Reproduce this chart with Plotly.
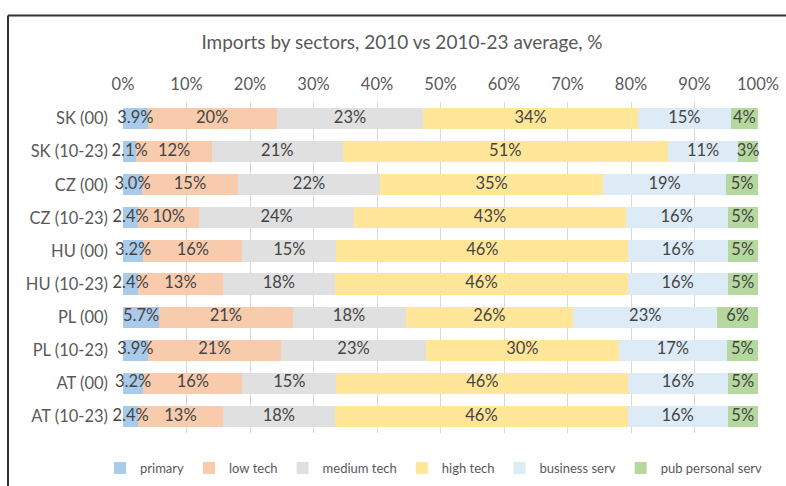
import plotly.graph_objects as go

categories = ["SK (00)", "SK (10-23)", "CZ (00)", "CZ (10-23)", "HU (00)",
              "HU (10-23)", "PL (00)", "PL (10-23)", "AT (00)", "AT (10-23)"]

primary = [3.9, 2.1, 3.0, 2.4, 3.2, 2.4, 5.7, 3.9, 3.2, 2.4]
low_tech = [20.3, 11.9, 15.1, 9.6, 15.6, 13.3, 21.0, 21.0, 15.6, 13.3]
medium_tech = [23.1, 20.6, 22.4, 24.4, 14.8, 17.7, 17.8, 22.8, 14.8, 17.7]
high_tech = [33.8, 51.2, 35.1, 42.8, 46.0, 46.1, 26.4, 30.4, 46.0, 46.1]
business_serv = [14.6, 11.1, 19.4, 16.0, 15.6, 15.7, 22.7, 17.0, 15.6, 15.7]
pub_personal_serv = [4.3, 3.1, 5.0, 4.8, 4.8, 4.8, 6.4, 4.9, 4.8, 4.8]

series = [
    ("primary", primary, "#A9CBEB", 1),
    ("low tech", low_tech, "#F8CBAD", 0),
    ("medium tech", medium_tech, "#E0E0E0", 0),
    ("high tech", high_tech, "#FFE699", 0),
    ("business serv", business_serv, "#DDEBF7", 0),
    ("pub personal serv", pub_personal_serv, "#B5D89E", 0),
]

FONT = "Lato"
fig = go.Figure()
for name, vals, color, dec in series:
    fig.add_trace(go.Bar(
        y=categories, x=vals, name=name, orientation="h",
        marker=dict(color=color, line=dict(width=0)),
        hoverinfo="x+name",
    ))

# data labels centred on each segment (positions derived from the data)
cum = [0.0] * len(categories)
for name, vals, color, dec in series:
    centers = [c + v / 2 for c, v in zip(cum, vals)]
    labels = [f"{v:.{dec}f}%" for v in vals]
    fig.add_trace(go.Scatter(
        x=centers, y=categories, mode="text", text=labels,
        textposition="middle center",
        textfont=dict(family=FONT, size=16.5, color="#454545"),
        showlegend=False, hoverinfo="skip", cliponaxis=False,
    ))
    cum = [c + v for c, v in zip(cum, vals)]

L, R, T, B = 123, 28, 102, 53
W, H = 786, 486
PW, PH = W - L - R, H - T - B
px_x = lambda x: (x - L) / PW
px_y = lambda y: (H - B - y) / PH

fig.update_layout(
    width=W, height=H,
    barmode="stack", bargap=0.36,
    margin=dict(l=L, r=R, t=T, b=B, autoexpand=False),
    paper_bgcolor="white", plot_bgcolor="white",
    font=dict(family=FONT, size=16, color="#595959"),
    title=dict(text="Imports by sectors, 2010 vs 2010-23 average, %",
               x=402 / W, xanchor="center", y=1 - 42 / H, yanchor="middle",
               yref="container", xref="container",
               font=dict(family=FONT, size=19, color="#595959")),
    xaxis=dict(side="top", range=[0, 100], dtick=10, ticksuffix="%",
               showgrid=True, gridcolor="#D9D9D9", gridwidth=1,
               zeroline=False, showline=False, ticks="",
               ticklabelstandoff=8, automargin=False,
               tickfont=dict(family=FONT, size=16.5, color="#595959"),
               fixedrange=True),
    yaxis=dict(categoryorder="array", categoryarray=categories,
               autorange="reversed", showgrid=False, zeroline=False,
               showline=False, ticks="", ticklabelstandoff=14,
               automargin=False,
               tickfont=dict(family=FONT, size=16.5, color="#595959")),
    legend=dict(orientation="h", x=px_x(100), xanchor="left",
                y=px_y(468), yanchor="middle", xref="paper", yref="paper",
                font=dict(family=FONT, size=13, color="#595959"),
                itemwidth=30, traceorder="normal"),
    showlegend=True,
)

# frame lines (top and left border)
fig.add_shape(type="line", xref="paper", yref="paper",
              x0=px_x(8), x1=px_x(800), y0=px_y(15.5), y1=px_y(15.5),
              line=dict(color="#333333", width=2))
fig.add_shape(type="line", xref="paper", yref="paper",
              x0=px_x(8), x1=px_x(8), y0=px_y(15.5), y1=px_y(500),
              line=dict(color="#333333", width=2))

fig.write_html("out.html")
